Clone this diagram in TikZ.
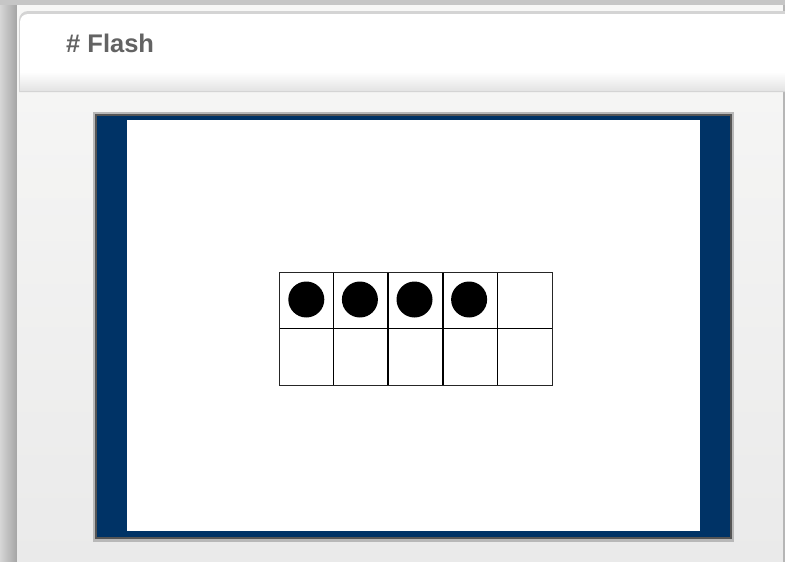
\documentclass[tikz,border=0pt]{standalone}
\usepackage{fontspec}
\setmainfont{Liberation Sans}
\definecolor{outergray}{HTML}{C6C6C6}
\definecolor{stripdark}{HTML}{A4A4A4}
\definecolor{striplight}{HTML}{D6D6D6}
\definecolor{bodytop}{HTML}{F7F7F6}
\definecolor{bodybot}{HTML}{EAEAEA}
\definecolor{headbot}{HTML}{E4E4E4}
\definecolor{headline}{HTML}{D4D4D4}
\definecolor{framegray}{HTML}{B8B8B8}
\definecolor{framedark}{HTML}{555555}
\definecolor{navy}{HTML}{003366}
\definecolor{titlegray}{HTML}{636363}
\tikzset{
  outerline/.style={draw=black!85, line width=0.8pt},
  innerline/.style={draw=black, line width=1.5pt},
  midline/.style={draw=black, line width=1pt},
  counter/.style={circle, fill=black, minimum size=36pt, inner sep=0pt},
  titletext/.style={font=\bfseries\fontsize{25.5}{28}\selectfont, text=titlegray, inner sep=0pt, anchor=base west}
}
\begin{document}
\begin{tikzpicture}[x=1pt,y=-1pt]
\useasboundingbox (0,0) rectangle (785,562);
% outer background
\fill[outergray] (0,0) rectangle (785,562);
\shade[left color=striplight, right color=stripdark] (0,5) rectangle (17,562);
% panel body
\shade[top color=bodytop, bottom color=bodybot] (17,5) rectangle (783,562);
\fill[stripdark!80] (783,5) rectangle (785,562);
% header (extends past the right edge of the page), only top-left corner rounded
\fill[headline] (19,92) -- (19,20) arc[start angle=180, end angle=90, radius=9pt] -- (810,11) -- (810,92) -- cycle;
\fill[white] (20,90) -- (20,22) arc[start angle=180, end angle=90, radius=8pt] -- (810,14) -- (810,90) -- cycle;
\shade[top color=white, bottom color=headbot] (20,72) rectangle (785,90);
\node[titletext] (title) at (66,52) {\# Flash};
% flash frame
\fill[framegray] (93,112) rectangle (734,542);
\fill[framedark] (95,114) rectangle (732,539);
\fill[navy] (97,116) rectangle (730,537);
\fill[white] (127,120) rectangle (700,531);
% ten frame
\draw[midline] (279,328.5) -- (552,328.5);
\foreach \x in {333.6,388.2,442.8,497.4} {
  \draw[innerline] (\x,272) -- (\x,385);
}
\draw[outerline] (279,272) rectangle (552,385);
\node[counter] (c1) at (306.3,299.5) {};
\node[counter] (c2) at (359.9,299.5) {};
\node[counter] (c3) at (414.5,299.5) {};
\node[counter] (c4) at (469.1,299.5) {};
\end{tikzpicture}
\end{document}
